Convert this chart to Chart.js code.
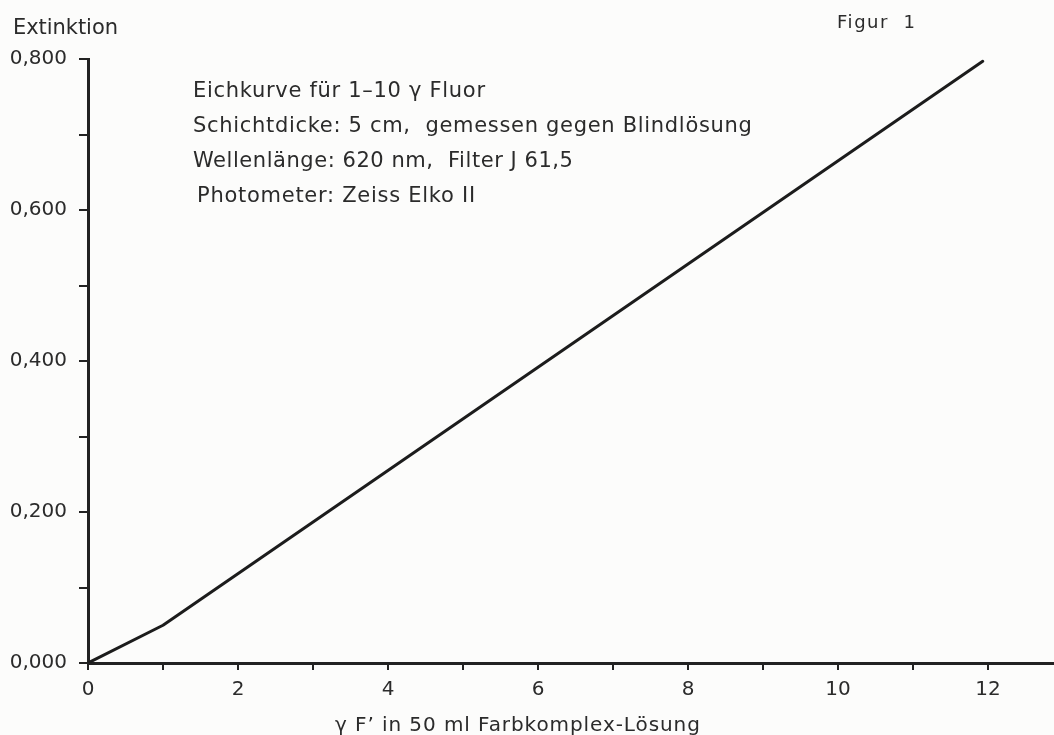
<!DOCTYPE html>
<html>
<head>
<meta charset="utf-8">
<script src="https://cdn.jsdelivr.net/npm/chart.js@4"></script>
<style>
  html, body { margin: 0; padding: 0; background: #fcfcfb; }
  #wrap { width: 1054px; height: 735px; position: relative; }
</style>
</head>
<body>
<div id="wrap"><canvas id="eichkurve"></canvas></div>
<script>
// Eichkurve: Konzentration (γ F') gegen Extinktion
const concentration = [0, 1, 11.93];
const extinction = [0, 0.05, 0.797];

const yAxisTitle = 'Extinktion';
const xAxisTitle = 'γ F\u2019 in 50 ml Farbkomplex-Lösung';
const figureLabel = 'Figur  1';
const infoLines = [
  'Eichkurve für 1\u201310 γ Fluor',
  'Schichtdicke: 5 cm,  gemessen gegen Blindlösung',
  'Wellenlänge: 620 nm,  Filter J 61,5',
  'Photometer: Zeiss Elko II'
];

const ink = '#222222';
const textInk = '#2b2b2b';
const fontFamily = '"DejaVu Sans", "Liberation Sans", sans-serif';

// Text auf die Breite im Original bringen
function spacedText(ctx, text, x, y, width) {
  ctx.letterSpacing = '0px';
  const natural = ctx.measureText(text).width;
  const extra = (width - natural) / Math.max(1, text.length - 1);
  ctx.letterSpacing = extra.toFixed(2) + 'px';
  ctx.fillText(text, x, y);
  ctx.letterSpacing = '0px';
}

// Texte, die nicht zu den Achsen gehören
const textPlugin = {
  id: 'texte',
  afterDraw(chart) {
    const ctx = chart.ctx;
    ctx.save();
    ctx.fillStyle = textInk;
    ctx.textBaseline = 'alphabetic';
    ctx.textAlign = 'left';

    ctx.font = '21px ' + fontFamily;
    spacedText(ctx, yAxisTitle, 13, 34, 105);

    ctx.font = '18px ' + fontFamily;
    spacedText(ctx, figureLabel, 837, 28, 78);

    ctx.font = '21px ' + fontFamily;
    const lineX = [193, 193, 193, 197];
    const lineW = [292, 559, 380, 278];
    infoLines.forEach((line, i) => {
      spacedText(ctx, line, lineX[i], 97 + i * 35, lineW[i]);
    });

    ctx.font = '20px ' + fontFamily;
    spacedText(ctx, xAxisTitle, 335, 731, 365);
    ctx.restore();
  }
};

const points = concentration.map((x, i) => ({ x: x, y: extinction[i] }));

new Chart(document.getElementById('eichkurve'), {
  type: 'scatter',
  data: {
    datasets: [{
      data: points,
      showLine: true,
      borderColor: '#1c1c1c',
      borderWidth: 3,
      borderJoinStyle: 'round',
      borderCapStyle: 'round',
      pointRadius: 0,
      tension: 0
    }]
  },
  options: {
    responsive: true,
    maintainAspectRatio: false,
    animation: false,
    layout: { padding: { top: 59, right: 0, left: 0, bottom: 0 } },
    plugins: {
      legend: { display: false },
      tooltip: { enabled: false }
    },
    scales: {
      x: {
        type: 'linear',
        min: 0,
        max: 12.88,
        afterFit: (scale) => { scale.height = 72; },
        border: { display: true, color: ink, width: 3 },
        grid: { drawOnChartArea: false, drawTicks: true, tickLength: 7, color: ink, lineWidth: 2 },
        ticks: {
          stepSize: 1,
          includeBounds: false,
          autoSkip: false,
          maxRotation: 0,
          padding: 8,
          color: textInk,
          font: { family: fontFamily, size: 20 },
          callback: (v) => (v % 2 === 0 ? String(v) : '')
        }
      },
      y: {
        min: 0,
        max: 0.8,
        afterFit: (scale) => { scale.width = 88; },
        border: { display: true, color: ink, width: 3 },
        grid: { drawOnChartArea: false, drawTicks: true, tickLength: 9, color: ink, lineWidth: 2 },
        ticks: {
          stepSize: 0.1,
          includeBounds: false,
          autoSkip: false,
          padding: 12,
          color: textInk,
          font: { family: fontFamily, size: 20 },
          callback: (v) => (Math.round(v * 10) % 2 === 0 ? v.toFixed(3).replace('.', ',') : '')
        }
      }
    }
  },
  plugins: [textPlugin]
});
</script>
</body>
</html>
